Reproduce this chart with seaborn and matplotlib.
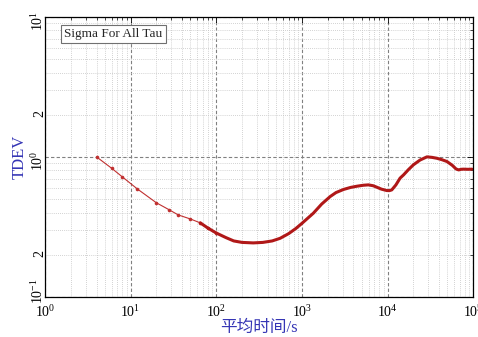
import numpy as np
import pandas as pd
import seaborn as sns
import matplotlib.pyplot as plt
from matplotlib.ticker import LogLocator, FuncFormatter, NullFormatter
from matplotlib.transforms import ScaledTranslation

# averaging time (s) and TDEV values
tau = [4, 6, 8, 12, 20, 28, 36, 50, 65, 80, 100, 130, 160, 200, 270, 350,
       450, 556, 700, 850, 1000, 1360, 1700, 2140, 2500, 3055, 3700, 4375,
       5200, 5980, 6800, 7500, 8500, 9770, 10500, 11200, 12500, 14000,
       15350, 17500, 20000, 24000, 28800, 33000, 37700, 43000, 49300,
       57000, 63000, 67600, 72000, 77100, 87000, 96600]
tdev = [1.00, 0.83, 0.72, 0.59, 0.47, 0.42, 0.385, 0.36, 0.338, 0.31, 0.286,
        0.265, 0.251, 0.245, 0.243, 0.245, 0.251, 0.262, 0.283, 0.308, 0.335,
        0.396, 0.46, 0.521, 0.556, 0.585, 0.605, 0.617, 0.627, 0.631, 0.622,
        0.607, 0.588, 0.575, 0.574, 0.581, 0.63, 0.705, 0.743, 0.81, 0.877,
        0.95, 1.0, 0.992, 0.977, 0.955, 0.927, 0.87, 0.82, 0.807, 0.815,
        0.817, 0.815, 0.817]

df = pd.DataFrame({"tau": tau, "tdev": tdev})
sparse = df[df["tau"] <= 100]
dense = df[df["tau"] >= 65]

sns.set_theme(style="white")
plt.rcParams["font.family"] = ["Liberation Serif", "Noto Sans CJK SC"]
plt.rcParams["mathtext.fontset"] = "stix"

fig = plt.figure(figsize=(4.78, 3.37), dpi=100)
ax = fig.add_axes([0.094, 0.119, 0.896, 0.831])

red = "#b01818"
sns.lineplot(data=sparse, x="tau", y="tdev", ax=ax, color="#c03030",
             linewidth=0.8, marker="o", markersize=2.6, markeredgewidth=0,
             estimator=None)
sns.lineplot(data=dense, x="tau", y="tdev", ax=ax, color=red, linewidth=2.2,
             estimator=None)

ax.set_xscale("log")
ax.set_yscale("log")
ax.set_xlim(1, 1e5)
ax.set_ylim(0.1, 10)

ax.xaxis.set_major_locator(LogLocator(base=10, numticks=10))
ax.xaxis.set_minor_locator(LogLocator(base=10, subs=np.arange(2, 10), numticks=20))
ax.xaxis.set_minor_formatter(NullFormatter())
ax.yaxis.set_major_locator(LogLocator(base=10, numticks=10))
ax.yaxis.set_minor_locator(LogLocator(base=10, subs=np.arange(2, 10), numticks=20))


def minor_fmt(v, pos):
    m = v / 10 ** np.floor(np.log10(v) + 1e-9)
    return "2" if abs(m - 2) < 1e-6 else ""


ax.yaxis.set_minor_formatter(FuncFormatter(minor_fmt))

ax.grid(which="major", linestyle=(0, (3, 2)), color="#808080", linewidth=0.8)
ax.grid(which="minor", linestyle=(0, (1, 1.5)), color="#c4c4c4", linewidth=0.6)

ax.tick_params(which="both", direction="in", top=True, right=True,
               colors="black", labelsize=10)
ax.tick_params(which="major", length=4, width=0.6)
ax.tick_params(which="minor", length=2, width=0.5)
ax.tick_params(axis="y", which="both", labelrotation=90, pad=-1)
ax.tick_params(axis="x", pad=5)

for sp in ax.spines.values():
    sp.set_color("black")
    sp.set_linewidth(0.9)

ax.set_xlabel("平均时间/s", color="#3535b5", fontsize=12, labelpad=0)
ax.set_ylabel("TDEV", color="#3535b5", fontsize=12, labelpad=2)

ax.text(0.045, 0.96, "Sigma For All Tau", transform=ax.transAxes,
        fontsize=9.5, va="top", ha="left",
        bbox=dict(boxstyle="square,pad=0.25", facecolor="white",
                  edgecolor="#707070", linewidth=0.8))

# lift the lowest y label (10^-1) above the x tick labels, as in the original
fig.canvas.draw()
for t in ax.yaxis.get_major_ticks():
    if abs(t.get_loc() - 0.1) < 1e-9:
        t.label1.set_transform(t.label1.get_transform()
                               + ScaledTranslation(0, 9 / 72, fig.dpi_scale_trans))

fig.savefig("out.png", dpi=100)
